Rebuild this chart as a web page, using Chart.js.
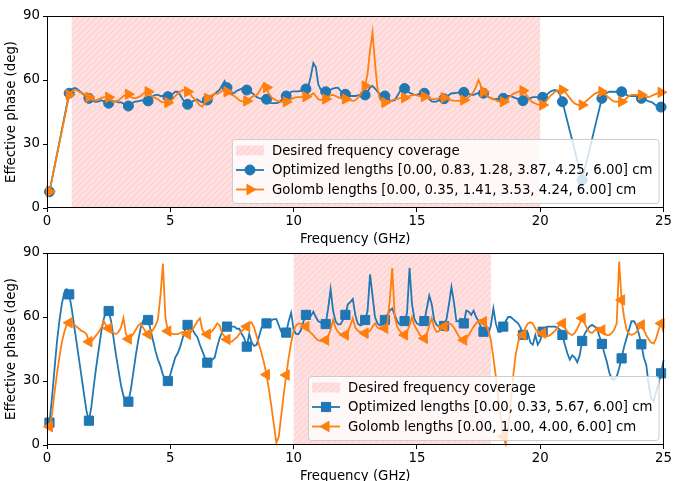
<!DOCTYPE html>
<html>
<head>
<meta charset="utf-8">
<script src="https://cdn.jsdelivr.net/npm/chart.js@4"></script>
<style>
  body { margin: 0; background: #fff; width: 674px; height: 481px; overflow: hidden; position: relative; }
  canvas { position: absolute; left: 0; }
</style>
</head>
<body>
<canvas id="topChart" width="674" height="250" style="top:0"></canvas>
<canvas id="bottomChart" width="674" height="250" style="top:237px"></canvas>
<script>
// frequency grid (GHz)
const freq = [
  0.1,0.2,0.3,0.4,0.5,0.6,0.7,0.8,0.9,1.0, 1.1,1.2,1.3,1.4,1.5,1.6,1.7,1.8,1.9,2.0,
  2.1,2.2,2.3,2.4,2.5,2.6,2.7,2.8,2.9,3.0, 3.1,3.2,3.3,3.4,3.5,3.6,3.7,3.8,3.9,4.0,
  4.1,4.2,4.3,4.4,4.5,4.6,4.7,4.8,4.9,5.0, 5.1,5.2,5.3,5.4,5.5,5.6,5.7,5.8,5.9,6.0,
  6.1,6.2,6.3,6.4,6.5,6.6,6.7,6.8,6.9,7.0, 7.1,7.2,7.3,7.4,7.5,7.6,7.7,7.8,7.9,8.0,
  8.1,8.2,8.3,8.4,8.5,8.6,8.7,8.8,8.9,9.0, 9.1,9.2,9.3,9.4,9.5,9.6,9.7,9.8,9.9,10.0,
  10.1,10.2,10.3,10.4,10.5,10.6,10.7,10.8,10.9,11.0, 11.1,11.2,11.3,11.4,11.5,11.6,11.7,11.8,11.9,12.0,
  12.1,12.2,12.3,12.4,12.5,12.6,12.7,12.8,12.9,13.0, 13.1,13.2,13.3,13.4,13.5,13.6,13.7,13.8,13.9,14.0,
  14.1,14.2,14.3,14.4,14.5,14.6,14.7,14.8,14.9,15.0, 15.1,15.2,15.3,15.4,15.5,15.6,15.7,15.8,15.9,16.0,
  16.1,16.2,16.3,16.4,16.5,16.6,16.7,16.8,16.9,17.0, 17.1,17.2,17.3,17.4,17.5,17.6,17.7,17.8,17.9,18.0,
  18.1,18.2,18.3,18.4,18.5,18.6,18.7,18.8,18.9,19.0, 19.1,19.2,19.3,19.4,19.5,19.6,19.7,19.8,19.9,20.0,
  20.1,20.2,20.3,20.4,20.5,20.6,20.7,20.8,20.9,21.0, 21.1,21.2,21.3,21.4,21.5,21.6,21.7,21.8,21.9,22.0,
  22.1,22.2,22.3,22.4,22.5,22.6,22.7,22.8,22.9,23.0, 23.1,23.2,23.3,23.4,23.5,23.6,23.7,23.8,23.9,24.0,
  24.1,24.2,24.3,24.4,24.5,24.6,24.7,24.8,24.9,25.0
];

// top panel, effective phase (deg)
const topOptimized = [
  7.6,13.4,19.2,25.0,30.7,36.5,42.3,48.1,53.8,55.5, 56.3,56,55,54,53,52,51.4,50.5,50,49.8,
  50,50.5,50,49.5,49.1,49.5,50,50,49.5,49.5, 49,48.3,47.8,48.5,49.5,50,50,50.3,50.5,50.3,
  50.2,51.5,52.5,53,53,52.5,52.5,52.5,52.2,52.5, 53.5,54.5,54.5,53,51,49.5,48.6,49,50,50.5,
  51,50,49.5,50,50.6,51.5,52.5,53.5,54.5,55.5, 57.5,59.5,56.4,54.5,53.5,54,55,55.5,56,56,
  55.3,55,54,53,52,51.5,51.3,51,51,49.5, 49.2,49.2,49.2,49.5,50.5,51.5,52.5,53.5,54.5,54.7,
  54.7,54.7,55,55.3,55.8,57,62,68,66,58, 55.5,55,54.5,55,55.5,56,56.3,56.4,55,54,
  53.3,53,52.5,52.5,52.5,52.8,53,53,53,54.5, 56.5,57.2,56,54.5,53.5,53,52.5,51.5,50.5,50.2,
  50.5,52.5,54.5,55.5,56,55,54,53.5,53,53, 53.5,53.8,53.8,52.5,51,50,49.8,50,50.5,51,
  51.2,52,53,53.8,53.8,54,54.2,54.2,54.2,54, 53.5,53,53,53.5,54,54,53.8,53,52,51.5,
  51,51,51.2,51.4,51.4,52,52.5,52.5,52,51.5, 51,50.5,50.3,50.5,51,51.5,52,52,52,52,
  51.9,52.5,53.5,54.5,55,55.3,55,53,49.8,45.3, 40.7,36.1,31.6,27,22.4,17.8,13.1,17.9,22.7,27.4,
  32.3,37.1,41.9,46.6,51.4,53,54,54.5,54.5,54.5, 54.5,54.5,54.5,54,53,52.5,52.5,52.5,52.5,52,
  51.4,51,50.5,50,49.8,49,48,47.5,47.3,47
];
const topGolomb = [
  7.6,13.3,19,24.6,30.3,36,41.6,47.3,53,54.5, 55.3,55.3,54.5,54,53.5,52.5,51.9,51,50.5,50.5,
  51,51.5,52,52,51.9,50.5,49.5,50,50.5,51.5, 52.5,53,53.3,52,51.5,51.5,52,52.5,53.5,54.5,
  54.5,53,52,51.5,51,50,49.5,49.5,49.4,50, 51,52.5,53.5,54.5,55.3,55,54.5,53.5,52,51,
  49.5,48,47.5,49.5,51.4,52.5,53,53.5,53.5,54, 55,55.5,54.5,53.5,53,52.5,51.5,50.5,50,50,
  50.2,51,52,52.5,53,54.5,56.5,58.5,56.5,53.5, 52,51,50.5,50,49.8,49.8,49.8,50.5,51,51.5,
  52,52,52,52.2,52.2,52.5,53,53.8,52.5,51, 50.6,51,51.1,52,52.8,53,52.5,52,51.5,51.2,
  51.1,50.8,50.4,50.2,50.5,51.5,53,55,57.2,63, 74,82.4,68,56,51,49.8,49.5,49.5,50,50.5,
  51,51.2,51.5,51.6,51.7,52,52.5,52.8,53,52.8, 52.5,52.3,52.2,52,51.5,51,51,51.2,51.5,51.7,
  51.7,51.5,51,50.5,50.3,50.2,50.2,50.4,50.6,51, 52,53,54.5,57,60,57,54.5,53,52,51.5,
  51,50.5,50,49.8,49.8,50.5,51.5,52.5,53.5,54, 54.5,55,55,53.5,52,50.5,49.5,49,48.5,48.3,
  48.3,49.5,51,52.5,53.5,54.5,55,55.3,55.3,54.5, 53,51.5,50,49,48.5,48.3,48.3,49.5,50.5,51.5,
  52.5,53.5,54,54.5,54.5,53.5,52.5,51.5,50.5,50, 49.8,49.8,49.8,50.5,51.5,52.5,53,53,53,53,
  53,52.5,52,52,52.5,53,53.5,54,54.2,54.5
];

// bottom panel, effective phase (deg)
const bottomOptimized = [
  10.5,22,35,48,58,66,71.5,73,70.6,64, 56,48,40,32,24,16,11.4,18,28,37,
  45,53,59,63,62.8,58,50,42,35,28, 23,20.5,20.3,26,34,42,49,55,58.5,59.5,
  58.6,54,49,44,40,37,33,30.5,30,33, 37,41,43,46,50,54,56.3,56,54,52,
  50.5,47,44,41,38.6,38,40,41,46,50, 53,54.5,55.5,55.5,55.5,55.5,54.5,54.5,52,50,
  46.1,52,48,46.5,47,51,55,56.5,57,57.5, 58.5,59,59,56,53,52.5,52.7,58,62,54,
  52,52,54,58,61,59.5,60.5,62.5,60,58, 57.5,57,56.7,64,73,63,58,56.5,56.5,58.5,
  61,66,67,68.5,61,57,56,56.5,58.6,63, 80,70,60,57,56,56.5,58.6,61,63,64,
  61,58,56.5,57,58.1,62,83,66,59,57, 56.3,56.5,58.1,64,70,66,58.5,56.3,55.5,55.5,
  55.8,59,66,74,67,58,58,59,57,63, 62.5,61,63,60,58,55,53.1,52.5,52.5,56,
  64,57,53,53,55.5,58,60,60,59,58, 57,55,51.6,52.5,52.5,48,47,51.5,47,49,
  53.1,55,55.5,55.5,55.5,55.5,55,54,51.6,47, 43,40,42,41,38.8,42,48.8,52,54,55.5,
  56.3,55.5,54.7,51,47.4,43,39,34,31,30.5, 32,36,40.6,46,50,54,58,58,56,52,
  47.2,41,37.5,28,22,20.5,25,29,33.6,39.8
];
const bottomGolomb = [
  8.6,14,24,33,41,48,53,56.5,57.3,57, 56.5,55.5,54.5,53.5,53,52,48.4,48.5,50,51.5,
  53,55,58,56,54.7,53.5,52.5,52,53,55, 59.5,52,49.7,50.5,52,54,56,57,55,53,
  51.9,52.5,54,56,59,70,85,60,53.4,52.5, 52,52,52,52.5,53,53,51.9,52.5,54,56,
  58,59.4,54,52,51.9,52.5,53.5,55,57,56, 52.5,51,49.5,48.5,48.5,49.5,50.5,52,53.5,54.5,
  55.5,57,57.5,55,51,47,43,38.5,33,26, 18,9.5,1,4,14,24,32.8,41,48,53.5,
  56,57,56.8,56,55.5,54,52.5,51.5,50,49, 48.8,49,49.2,51,54,58.6,55,53,52,51.5,
  51.6,53,56,59.4,55,53.5,53,52.5,52.4,53, 53.5,55.5,57,55,54.5,54.7,54.7,57,68,83,
  60,55.5,53.5,52,51.6,53,56,60,56,54, 52,50.5,50,52,56,59.4,55,53,53.5,54.5,
  55.5,56.5,57,56.5,55,53,51,49.5,49.2,50, 51.5,53.5,55.5,57,58.3,58.6,57.8,56,53.5,49,
  41,32,22,12.5,4,0.5,8,20,32,42, 48,51,51.6,55,57,57.5,57,54.5,53,52.5,
  52.4,51.5,51,51.5,52.5,53.5,55,56.5,57,55, 53,52,51.6,52.5,54.5,57,59.4,57,54.5,53,
  52.5,53.5,55,55,53.9,52.5,51.5,51.5,52.5,54, 57,86,68,60,54,52,51.6,52,53,54.5,
  56.3,54,51.5,49.5,48,47.5,50,54,57,53
];

const topSpan = [1, 20];
const bottomSpan = [10, 18];
const xTicks = [0, 5, 10, 15, 20, 25];
const yTicks = [0, 30, 60, 90];
const topLabels = [
  'Desired frequency coverage',
  'Optimized lengths [0.00, 0.83, 1.28, 3.87, 4.25, 6.00] cm',
  'Golomb lengths [0.00, 0.35, 1.41, 3.53, 4.24, 6.00] cm'
];
const bottomLabels = [
  'Desired frequency coverage',
  'Optimized lengths [0.00, 0.33, 5.67, 6.00] cm',
  'Golomb lengths [0.00, 1.00, 4.00, 6.00] cm'
];

const BLUE = '#1f77b4';
const ORANGE = '#ff7f0e';
const FONT = "'DejaVu Sans', sans-serif";
const FONT_SIZE = 13.3;

Chart.defaults.font.family = FONT;
Chart.defaults.font.size = FONT_SIZE;
Chart.defaults.color = '#000';

function hatchPattern(ctx) {
  const c = document.createElement('canvas');
  c.width = 6; c.height = 6;
  const g = c.getContext('2d');
  g.fillStyle = '#ffe0e0';
  g.fillRect(0, 0, 6, 6);
  g.strokeStyle = '#ffc9c9';
  g.lineWidth = 1;
  g.beginPath();
  g.moveTo(-1, 7); g.lineTo(7, -1);
  g.moveTo(-1, 1); g.lineTo(1, -1);
  g.moveTo(5, 7); g.lineTo(7, 5);
  g.stroke();
  return ctx.createPattern(c, 'repeat');
}

function drawMarker(ctx, style, rot, r, x, y) {
  ctx.beginPath();
  if (style === 'circle') {
    ctx.arc(x, y, r, 0, Math.PI * 2);
  } else if (style === 'rect') {
    const s = r * Math.SQRT1_2;
    ctx.rect(x - s, y - s, 2 * s, 2 * s);
  } else {
    let a = rot * Math.PI / 180;
    ctx.moveTo(x + Math.sin(a) * r, y - Math.cos(a) * r);
    a += 2 * Math.PI / 3;
    ctx.lineTo(x + Math.sin(a) * r, y - Math.cos(a) * r);
    a += 2 * Math.PI / 3;
    ctx.lineTo(x + Math.sin(a) * r, y - Math.cos(a) * r);
    ctx.closePath();
  }
  ctx.fill();
  ctx.stroke();
}

// shaded band behind the curves
const spanPlugin = {
  id: 'span',
  beforeDatasetsDraw(chart, args, opts) {
    const { ctx, chartArea: a, scales: { x } } = chart;
    const x0 = x.getPixelForValue(opts.range[0]);
    const x1 = x.getPixelForValue(opts.range[1]);
    ctx.save();
    ctx.fillStyle = hatchPattern(ctx);
    ctx.fillRect(x0, a.top, x1 - x0, a.bottom - a.top);
    ctx.restore();
  }
};

// axes box + matplotlib-like legend
const boxLegendPlugin = {
  id: 'boxLegend',
  afterDraw(chart, args, opts) {
    const { ctx, chartArea: a } = chart;
    ctx.save();
    ctx.strokeStyle = '#000';
    ctx.lineWidth = 1;
    ctx.strokeRect(Math.round(a.left) + 0.5, Math.round(a.top) + 0.5,
      Math.round(a.right - a.left) - 1, Math.round(a.bottom - a.top) - 1);

    ctx.font = FONT_SIZE + 'px ' + FONT;
    const items = opts.items;
    const textW = Math.max(...items.map(it => ctx.measureText(it.label).width));
    const w = 40 + textW + 6;
    const h = 64;
    const right = a.right - 5;
    const bottom = a.bottom - 5;
    const left = right - w;
    const top = bottom - h;

    ctx.beginPath();
    ctx.roundRect(left + 0.5, top + 0.5, w, h, 3);
    ctx.fillStyle = 'rgba(255,255,255,0.8)';
    ctx.fill();
    ctx.strokeStyle = '#cccccc';
    ctx.stroke();

    items.forEach((it, i) => {
      const cy = top + 11.5 + i * 19.5;
      if (it.type === 'patch') {
        ctx.fillStyle = hatchPattern(ctx);
        ctx.fillRect(left + 4, cy - 5, 28, 10);
      } else {
        ctx.strokeStyle = it.color;
        ctx.lineWidth = 1.8;
        ctx.beginPath();
        ctx.moveTo(left + 4, cy);
        ctx.lineTo(left + 32, cy);
        ctx.stroke();
        ctx.fillStyle = it.color;
        ctx.lineWidth = 1;
        drawMarker(ctx, it.pointStyle, it.rotation, it.radius, left + 18, cy);
      }
      ctx.fillStyle = '#000';
      ctx.textBaseline = 'middle';
      ctx.textAlign = 'left';
      ctx.fillText(it.label, left + 40, cy + 1);
    });
    ctx.restore();
  }
};

function series(vals, color, style, rot, r, order) {
  return {
    data: freq.map((f, i) => ({ x: f, y: vals[i] })),
    borderColor: color,
    backgroundColor: color,
    borderWidth: 1.8,
    pointStyle: style,
    rotation: rot,
    pointRadius: ctx => ctx.dataIndex % 8 === 0 ? r : 0,
    pointBorderWidth: 1,
    pointBackgroundColor: color,
    pointBorderColor: color,
    tension: 0,
    clip: 8,
    order: order
  };
}

function makeChart(id, optVals, golVals, span, labels, optStyle, optR, golRot) {
  const ctx = document.getElementById(id).getContext('2d');
  return new Chart(ctx, {
    type: 'line',
    data: {
      datasets: [
        series(optVals, BLUE, optStyle, 0, optR, 2),
        series(golVals, ORANGE, 'triangle', golRot, 6, 1)
      ]
    },
    options: {
      responsive: false,
      devicePixelRatio: 1,
      animation: false,
      layout: { padding: { top: 16, right: 8, left: 0, bottom: 0 } },
      scales: {
        x: {
          type: 'linear',
          min: 0,
          max: 25,
          afterBuildTicks: s => { s.ticks = xTicks.map(v => ({ value: v })); },
          afterFit: s => { s.height = 42; },
          ticks: { padding: 2, maxRotation: 0, autoSkip: false },
          grid: { drawOnChartArea: false, tickLength: 4, tickColor: '#000' },
          border: { display: false },
          title: { display: true, text: 'Frequency (GHz)', padding: { top: 0, bottom: 2 } }
        },
        y: {
          min: 0,
          max: 90,
          afterBuildTicks: s => { s.ticks = yTicks.map(v => ({ value: v })); },
          afterFit: s => { s.width = 47; },
          ticks: { padding: 3 },
          grid: { drawOnChartArea: false, tickLength: 4, tickColor: '#000' },
          border: { display: false },
          title: { display: true, text: 'Effective phase (deg)', padding: { top: 4, bottom: 0 } }
        }
      },
      plugins: {
        legend: { display: false },
        tooltip: { enabled: false },
        span: { range: span },
        boxLegend: {
          items: [
            { type: 'patch', label: labels[0] },
            { type: 'line', label: labels[1], color: BLUE, pointStyle: optStyle, rotation: 0, radius: optR },
            { type: 'line', label: labels[2], color: ORANGE, pointStyle: 'triangle', rotation: golRot, radius: 6 }
          ]
        }
      }
    },
    plugins: [spanPlugin, boxLegendPlugin]
  });
}

makeChart('topChart', topOptimized, topGolomb, topSpan, topLabels, 'circle', 5, 90);
makeChart('bottomChart', bottomOptimized, bottomGolomb, bottomSpan, bottomLabels, 'rect', 6.5, -90);
</script>
</body>
</html>
